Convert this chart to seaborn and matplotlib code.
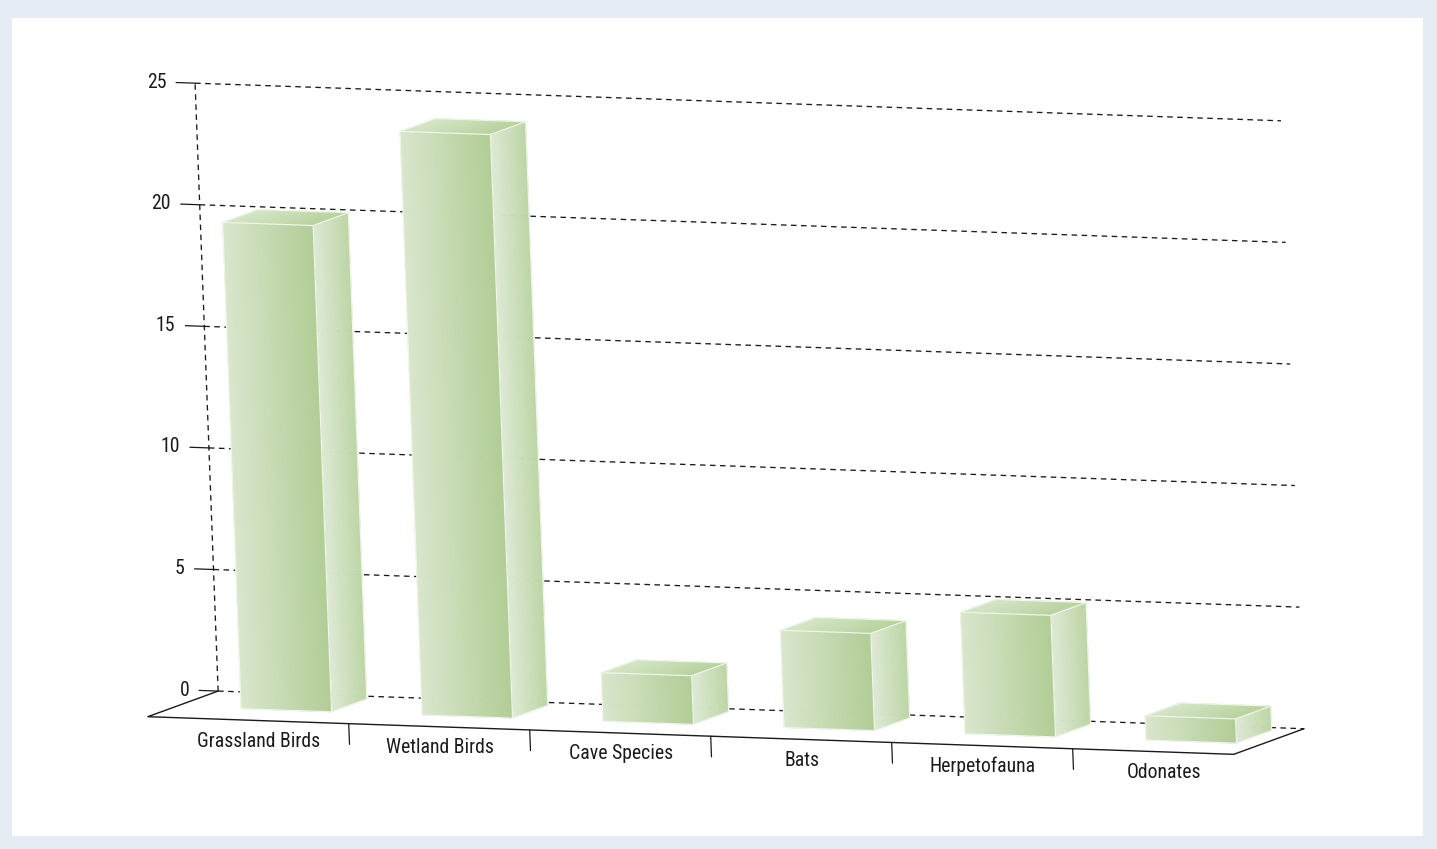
import numpy as np
import matplotlib
matplotlib.use("Agg")
import matplotlib.pyplot as plt
import seaborn as sns
from matplotlib import font_manager
from matplotlib.patches import Rectangle
from mpl_toolkits.mplot3d import proj3d
from mpl_toolkits.mplot3d.art3d import Poly3DCollection, Line3DCollection

# Species richness per taxonomic group
categories = ["Grassland Birds", "Wetland Birds", "Cave Species", "Bats", "Herpetofauna", "Odonates"]
species_counts = [20, 24, 2, 4, 5, 1]
value_ticks = [0, 5, 10, 15, 20, 25]

sns.set_theme(style="white")

# prefer a condensed grotesque for the labels, fall back to a regular one
installed = {f.name for f in font_manager.fontManager.ttflist}
narrow = [n for n in ("Roboto Condensed", "Liberation Sans Narrow", "Arial Narrow") if n in installed]
if narrow:
    plt.rcParams["font.family"] = [narrow[0], "Liberation Sans", "DejaVu Sans"]
    LABEL_SIZE = 14.2
else:
    plt.rcParams["font.family"] = ["Liberation Sans", "DejaVu Sans"]
    LABEL_SIZE = 13

W, H, DPI = 1437, 849, 100
fig = plt.figure(figsize=(W / DPI, H / DPI), dpi=DPI, facecolor="#e5ecf4")
fig.add_artist(Rectangle((12 / W, 13 / H), 1411 / W, 818 / H, transform=fig.transFigure,
                         facecolor="white", edgecolor="none", zorder=-5))

# 3D scene: x = category, y = depth (0 front, 1 back wall), z = value
ax = fig.add_axes([-0.01635, -0.3624, 1.0, 1.6926], projection="3d", computed_zorder=False)
ax.set_facecolor((1, 1, 1, 0))
ax.set_axis_off()
ax.set_proj_type("ortho")
ax.view_init(elev=8.8, azim=-64.6, roll=2.17)
ax.set_box_aspect((1199.7, 166.0, 615.6), zoom=0.9178)

X_MIN, X_MAX = -0.61, 5.39
Z_MAX = value_ticks[-1]
BAR_W = 0.5
BAR_Y0, BAR_Y1 = 0.40, 0.90
ax.set_xlim(X_MIN, X_MAX)
ax.set_ylim(0, 1)
ax.set_zlim(0, Z_MAX)

ink = "#1a1a1a"
dash = dict(color=ink, lw=0.95, dashes=(4.2, 3.4))


def label(x, y, z, s, **kw):
    """Place a flat 2D label at the projected position of a 3D point."""
    px, py, _ = proj3d.proj_transform(x, y, z, ax.get_proj())
    return ax.text2D(px, py, s, transform=ax.transData, color=ink, fontsize=LABEL_SIZE, zorder=6, **kw)


# back-wall gridlines and left wall edge
for v in value_ticks:
    ax.plot([X_MIN, X_MAX], [1, 1], [v, v], zorder=1, **dash)
ax.plot([X_MIN, X_MIN], [1, 1], [0, Z_MAX], zorder=1, **dash)

# floor outline
ax.plot([X_MIN, X_MIN, X_MAX, X_MAX], [1, 0, 0, 1], [0, 0, 0, 0], color=ink, lw=1.0, zorder=1)

# value ticks and labels
for v in value_ticks:
    ax.plot([X_MIN - 0.105, X_MIN], [1, 1], [v, v], color=ink, lw=0.9, zorder=1)
    label(X_MIN - 0.16, 1, v, str(v), ha="right", va="center")

# category separators and labels along the front edge
for i in range(len(categories) - 1):
    ax.plot([i + 0.5, i + 0.5], [0, 0], [0, -0.85], color=ink, lw=0.9, zorder=1)
for i, name in enumerate(categories):
    label(i, 0, -0.85, name, ha="center", va="center")

# bars with horizontally graded faces
N = 32
front_cols = sns.blend_palette(["#d8e6cc", "#b2cd96"], N)
side_cols = sns.blend_palette(["#dde9d4", "#bcd5a4"], N)
top_cols = sns.blend_palette(["#d6e6c9", "#b8d29e"], N)
edge_col = "#eef5e9"

for i, v in enumerate(species_counts):
    x0, x1 = i - BAR_W / 2, i + BAR_W / 2
    xs = np.linspace(x0, x1, N + 1)
    ys = np.linspace(BAR_Y0, BAR_Y1, N + 1)
    polys, cols = [], []
    for k in range(N):
        polys.append([(xs[k], BAR_Y0, 0), (xs[k + 1], BAR_Y0, 0), (xs[k + 1], BAR_Y0, v), (xs[k], BAR_Y0, v)])
        cols.append(front_cols[k])
    for k in range(N):
        polys.append([(x1, ys[k], 0), (x1, ys[k + 1], 0), (x1, ys[k + 1], v), (x1, ys[k], v)])
        cols.append(side_cols[k])
    for k in range(N):
        polys.append([(xs[k], BAR_Y0, v), (xs[k + 1], BAR_Y0, v), (xs[k + 1], BAR_Y1, v), (xs[k], BAR_Y1, v)])
        cols.append(top_cols[k])
    body = Poly3DCollection(polys, facecolors=cols, edgecolors=cols, linewidths=0.5, zorder=3)
    ax.add_collection3d(body, autolim=False)
    edges = [
        [(x0, BAR_Y0, 0), (x1, BAR_Y0, 0)], [(x1, BAR_Y0, 0), (x1, BAR_Y0, v)],
        [(x1, BAR_Y0, v), (x0, BAR_Y0, v)], [(x0, BAR_Y0, v), (x0, BAR_Y0, 0)],
        [(x1, BAR_Y0, 0), (x1, BAR_Y1, 0)], [(x1, BAR_Y1, 0), (x1, BAR_Y1, v)],
        [(x1, BAR_Y1, v), (x1, BAR_Y0, v)], [(x0, BAR_Y0, v), (x0, BAR_Y1, v)],
        [(x0, BAR_Y1, v), (x1, BAR_Y1, v)],
    ]
    ax.add_collection3d(Line3DCollection(edges, colors=edge_col, linewidths=0.9, zorder=4), autolim=False)

fig.savefig("out.png", dpi=DPI)
